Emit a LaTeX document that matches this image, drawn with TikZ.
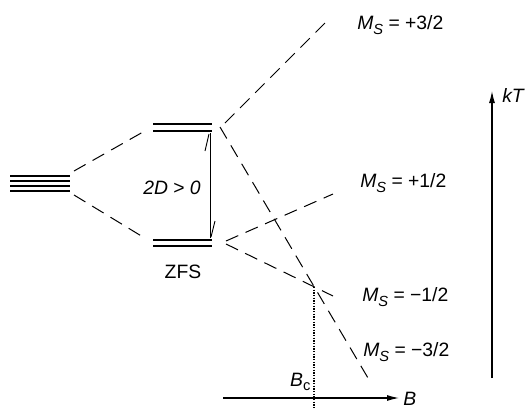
\documentclass[tikz,border=0pt]{standalone}
\usepackage{fontspec}
\setmainfont{Liberation Sans}
\usetikzlibrary{arrows.meta}

\newcommand{\msval}[1]{\textit{M}\raisebox{-0.45ex}{\textit{\fontsize{11}{12}\selectfont S}} = #1}

\tikzset{
  lvl/.style={line width=0.8pt},
  corr/.style={line width=0.75pt, dash pattern=on 10pt off 6pt},
  axis/.style={line width=0.8pt, -{Latex[length=9pt,width=4.5pt]}},
  barb/.style={line width=0.7pt},
  lbl/.style={anchor=west, inner sep=0pt}
}

\begin{document}
\begin{tikzpicture}[x=0.75pt,y=-0.75pt,font=\fontsize{14.5}{16}\selectfont]
  \useasboundingbox (0,0) rectangle (526,408);
  % levels
  \foreach \y in {176,181,186,191}{
    \draw[lvl] (10,\y) -- (70,\y);
  }
  \foreach \y in {124,131,240,246}{
    \draw[lvl] (153,\y) -- (212,\y);
  }
  \coordinate (q1) at (74,171);
  \coordinate (q2) at (74,195);
  \coordinate (u0) at (143,132);
  \coordinate (l0) at (143,237);
  \coordinate (u1) at (225,123);
  \coordinate (u2) at (220,127);
  \coordinate (l1) at (226,241);
  \coordinate (l2) at (226,244);
  \coordinate (p32) at (327,21);
  \coordinate (m32) at (368,378);
  \coordinate (p12) at (333,194);
  \coordinate (m12) at (333,296);
  % zero field splitting
  \draw[corr] (q1) -- (u0);
  \draw[corr] (q2) -- (l0);
  \coordinate (za) at (210,238);
  \coordinate (zb) at (210,133);
  \draw[barb] (za) -- (zb);
  \draw[barb] (zb) ++(-1,1) -- ++(-4,17);
  \draw[barb] (za) ++(1,-1) -- ++(4,-16);
  \node (gap) at (172,188) {\textit{2D} > \textit{0}};
  \node (zfs) at (183,272) {ZFS};
  % Zeeman lines
  \draw[corr] (u1) -- (p32);
  \draw[corr] (u2) -- (m32);
  \draw[corr] (l1) -- (p12);
  \draw[corr] (l2) -- (m12);
  \node[lbl] (lp32) at (357,25) {\msval{+3/2}};
  \node[lbl] (lp12) at (360,183) {\msval{+1/2}};
  \node[lbl] (lm12) at (362,297) {\msval{−1/2}};
  \node[lbl] (lm32) at (363,352) {\msval{−3/2}};
  % axes
  \coordinate (bc) at (314,287);
  \coordinate (bc0) at (314,408);
  \draw[line width=1pt,densely dotted] (bc) -- (bc0);
  \coordinate (b0) at (223,398);
  \coordinate (b1) at (399,398);
  \draw[axis] (b0) -- (b1);
  \node[anchor=base west,inner sep=0pt] (bl) at (403,405) {\textit{B}};
  \node[anchor=south east,inner sep=1pt] (bcl) at (312,392) {\textit{B}\raisebox{-0.4ex}{\fontsize{11}{12}\selectfont c}};
  \coordinate (k0) at (492,378);
  \coordinate (k1) at (492,91);
  \draw[axis] (k0) -- (k1);
  \node[lbl] (kt) at (502,95) {\textit{kT}};
\end{tikzpicture}
\end{document}
